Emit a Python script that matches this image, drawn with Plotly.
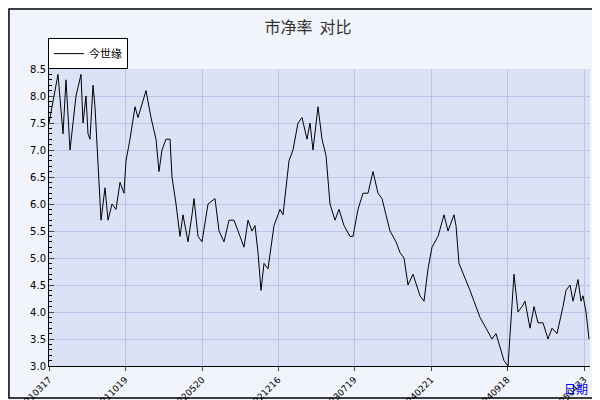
import plotly.graph_objects as go

# trading-day index and 市净率 values
day = [0, 9, 14, 17, 21, 27, 32, 34, 37, 39, 41, 44, 46, 49, 52, 56, 59, 63, 67, 71,
       75, 77, 81, 86, 89, 97, 102, 107, 110, 113, 117, 121, 123, 127, 131, 134, 139, 143, 145, 149,
       153, 159, 166, 170, 175, 180, 185, 191, 195, 199, 203, 206, 209, 212, 215, 219, 225, 231, 234, 240,
       244, 249, 253, 258, 261, 264, 269, 273, 277, 281, 286, 290, 295, 301, 304, 309, 314, 319, 324, 329,
       333, 337, 341, 347, 351, 355, 359, 364, 371, 375, 379, 383, 389, 395, 399, 405, 407, 410, 417, 421,
       425, 431, 437, 443, 447, 455, 459, 462, 465, 469, 473, 476, 481, 485, 489, 494, 499, 503, 508, 514,
       517, 521, 524, 529, 532, 534, 537, 540]
pb = [7.5, 8.4, 7.3, 8.3, 7.0, 8.0, 8.4, 7.5, 8.0, 7.3, 7.2, 8.2, 7.8, 6.8, 5.7, 6.3, 5.7, 6.0, 5.9, 6.4,
      6.2, 6.8, 7.2, 7.8, 7.6, 8.1, 7.6, 7.2, 6.6, 7.0, 7.2, 7.2, 6.5, 6.0, 5.4, 5.8, 5.3, 5.8, 6.1, 5.4,
      5.3, 6.0, 6.1, 5.5, 5.3, 5.7, 5.7, 5.4, 5.2, 5.7, 5.5, 5.6, 5.1, 4.4, 4.9, 4.8, 5.6, 5.9, 5.8, 6.8,
      7.0, 7.5, 7.6, 7.2, 7.5, 7.0, 7.8, 7.2, 6.9, 6.0, 5.7, 5.9, 5.6, 5.4, 5.4, 5.9, 6.2, 6.2, 6.6, 6.2,
      6.1, 5.8, 5.5, 5.3, 5.1, 5.0, 4.5, 4.7, 4.3, 4.2, 4.8, 5.2, 5.4, 5.8, 5.5, 5.8, 5.6, 4.9, 4.6, 4.4,
      4.2, 3.9, 3.7, 3.5, 3.6, 3.1, 3.0, 3.8, 4.7, 4.0, 4.1, 4.2, 3.7, 4.1, 3.8, 3.8, 3.5, 3.7, 3.6, 4.1,
      4.4, 4.5, 4.2, 4.6, 4.2, 4.3, 4.0, 3.5]

tick_days = [0, 76, 153, 229, 305, 382, 458, 535]
tick_labels = ["20210317", "20211019", "20220520", "20221216",
               "20230719", "20240221", "20240918", "20250423"]

fig = go.Figure(go.Scatter(x=day, y=pb, mode="lines", name="今世缘",
                           line=dict(color="black", width=1)))

fig.update_layout(
    width=600, height=400,
    margin=dict(l=41, r=18, t=61, b=42, autoexpand=False),
    paper_bgcolor="#F2F4FC", plot_bgcolor="#DCE2F6",
    font=dict(family="DejaVu Sans", color="black", size=10),
    title=dict(text="市净率  对比", x=0.5, xanchor="center", y=0.965,
               font=dict(family="Noto Sans CJK SC", size=16, color="#333333")),
    showlegend=True,
    legend=dict(x=-0.002, y=1.104, xanchor="left", yanchor="top", bgcolor="white",
                bordercolor="black", borderwidth=1, itemwidth=30,
                font=dict(family="Noto Sans CJK SC", size=11)),
    xaxis=dict(range=[0, 541], tickvals=tick_days, ticktext=tick_labels, tickangle=-45,
               showgrid=True, gridcolor="#B8C4E8", ticks="outside", ticklen=4,
               showline=True, linecolor="black", tickfont=dict(size=9), zeroline=False),
    yaxis=dict(range=[3.0, 8.5], dtick=0.5, tickformat=".1f", showgrid=True,
               gridcolor="#B8C4E8", ticks="inside", ticklen=5, showline=True,
               linecolor="black", zeroline=False,
               minor=dict(dtick=0.1, ticks="inside", ticklen=3, tickcolor="black")),
    shapes=[
        dict(type="rect", xref="paper", yref="paper", x0=-0.074, x1=1.028, y0=-0.108, y1=1.202,
             line=dict(color="black", width=1.5)),
    ],
    annotations=[
        dict(text="日期", xref="paper", yref="paper", x=1.0, y=-0.04, showarrow=False,
             xanchor="right", yanchor="top",
             font=dict(family="Noto Sans CJK SC", size=12, color="blue")),
    ],
)

fig.write_html("out.html")
